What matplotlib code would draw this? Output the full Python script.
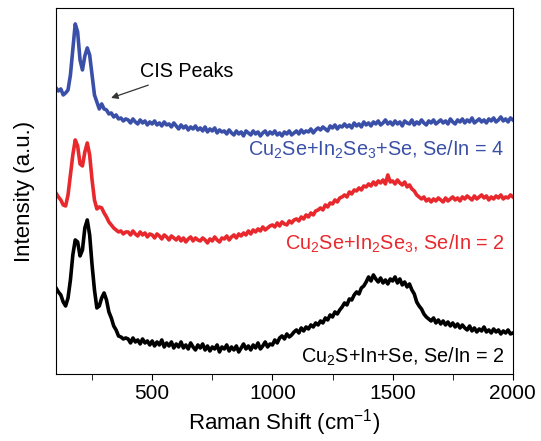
import numpy as np
import matplotlib.pyplot as plt

plt.rcParams['font.family'] = ['Liberation Sans', 'DejaVu Sans']
plt.rcParams['mathtext.fontset'] = 'custom'
plt.rcParams['mathtext.rm'] = 'Liberation Sans'
plt.rcParams['mathtext.it'] = 'Liberation Sans'

# Raman shift grid (cm-1)
shift = np.arange(100, 2001, 10)

# intensities (a.u., vertical offsets included)
blue = [286, 283, 285, 279, 281, 284, 299, 324, 350, 342,
        314, 304, 318, 326, 319, 299, 279, 272, 265, 270,
        265, 264, 260, 261, 257, 259, 255, 256, 253, 255,
        254, 251, 255, 252, 250, 254, 251, 253, 249, 252,
        250, 253, 249, 251, 248, 252, 249, 250, 247, 251,
        248, 245, 249, 246, 248, 244, 247, 245, 248, 244,
        246, 243, 247, 242, 245, 243, 246, 241, 244, 242,
        243, 240, 244, 241, 239, 243, 240, 242, 238, 243,
        241, 239, 243, 240, 242, 238, 241, 243, 239, 242,
        240, 243, 239, 241, 238, 242, 240, 243, 239, 241,
        243, 240, 244, 241, 243, 242, 245, 241, 244, 246,
        244, 247, 245, 243, 248, 246, 249, 245, 248, 247,
        250, 247, 249, 246, 251, 248, 250, 247, 252, 249,
        251, 248, 252, 250, 253, 249, 251, 254, 250, 252,
        249, 253, 250, 252, 248, 253, 251, 250, 254, 249,
        252, 250, 254, 251, 249, 253, 251, 254, 250, 252,
        254, 251, 253, 250, 255, 252, 250, 254, 252, 255,
        251, 254, 252, 256, 251, 253, 255, 252, 254, 251,
        255, 253, 256, 252, 254, 257, 253, 255, 252, 256,
        254]
red = [181, 177, 174, 169, 168, 179, 199, 219, 234, 228,
       210, 208, 222, 231, 219, 194, 174, 165, 167, 166,
       161, 157, 152, 149, 146, 144, 142, 143, 140, 142,
       142, 139, 143, 140, 138, 142, 139, 141, 137, 140,
       139, 136, 140, 138, 135, 139, 137, 134, 138, 136,
       134, 137, 133, 136, 132, 135, 137, 133, 136, 134,
       133, 136, 134, 131, 135, 133, 137, 134, 132, 136,
       135, 138, 134, 137, 139, 136, 140, 138, 141, 139,
       143, 140, 144, 142, 145, 143, 147, 144, 146, 148,
       149, 147, 151, 148, 152, 150, 149, 153, 151, 154,
       155, 153, 157, 155, 159, 157, 161, 159, 163, 164,
       166, 164, 169, 167, 171, 170, 174, 172, 176, 177,
       179, 177, 182, 180, 184, 183, 186, 184, 188, 187,
       190, 188, 192, 189, 193, 191, 194, 190, 199, 192,
       193, 190, 194, 191, 189, 192, 187, 189, 185, 183,
       179, 177, 175, 177, 173, 175, 172, 175, 173, 176,
       174, 172, 176, 173, 175, 177, 174, 176, 173, 177,
       175, 178, 176, 174, 178, 175, 177, 179, 176, 178,
       174, 177, 175, 178, 176, 179, 175, 177, 176, 179,
       177]
black = [86, 82, 79, 72, 68, 76, 94, 119, 134, 132,
         118, 124, 146, 154, 139, 109, 84, 66, 68, 76,
         81, 74, 62, 56, 48, 44, 38, 37, 35, 36,
         35, 31, 36, 32, 34, 30, 35, 31, 33, 29,
         33, 28, 32, 29, 34, 27, 31, 28, 32, 26,
         30, 27, 32, 26, 29, 25, 31, 27, 24, 29,
         26, 30, 24, 28, 23, 27, 25, 29, 22, 27,
         25, 29, 23, 27, 24, 28, 22, 26, 30, 25,
         28, 24, 29, 26, 31, 25, 28, 32, 27, 30,
         29, 34, 31, 36, 38, 35, 40, 37, 39, 42,
         44, 41, 46, 43, 47, 45, 49, 47, 51, 49,
         53, 51, 56, 54, 59, 57, 62, 60, 64, 67,
         71, 69, 75, 74, 79, 82, 80, 86, 88, 92,
         97, 93, 99, 95, 92, 96, 91, 94, 90, 95,
         93, 97, 91, 95, 89, 92, 87, 90, 84, 80,
         72, 68, 65, 60, 57, 55, 53, 56, 51, 54,
         50, 53, 49, 52, 48, 51, 47, 50, 46, 49,
         46, 44, 48, 43, 46, 42, 45, 43, 47, 42,
         44, 41, 45, 42, 44, 40, 43, 41, 44, 40,
         41]

labels = [r'Cu$_2$Se+In$_2$Se$_3$+Se, Se/In = 4',
          r'Cu$_2$Se+In$_2$Se$_3$, Se/In = 2',
          r'Cu$_2$S+In+Se, Se/In = 2']
colors = ['#3a50a8', '#e8282c', 'black']

fig = plt.figure(figsize=(5.41, 4.41), dpi=100)
ax = fig.add_axes([0.1035, 0.152, 0.8445, 0.830])

for y, c in zip([blue, red, black], colors):
    ax.plot(shift, y, color=c, lw=2.6)

ax.set_xlim(100, 2000)
ax.set_ylim(0, 366)
ax.set_xticks([500, 1000, 1500, 2000])
ax.set_xticks([250, 750, 1250, 1750], minor=True)
ax.tick_params(axis='x', which='both', direction='out', length=4, labelsize=15)
ax.set_yticks([])

label_y = [0.612, 0.355, 0.046]
for txt, c, yy in zip(labels, colors, label_y):
    ax.text(0.982, yy, txt, color=c, fontsize=14.3, ha='right', va='center',
            transform=ax.transAxes)

ax.annotate('CIS Peaks', xy=(329, 276), xytext=(449, 302), fontsize=14.2,
            va='center', ha='left',
            arrowprops=dict(arrowstyle='-|>', color='#333333', lw=0.9,
                            shrinkA=2, shrinkB=0, mutation_scale=10))

ax.set_xlabel(r'Raman Shift (cm$^{-1}$)', fontsize=16, labelpad=3)
ax.set_ylabel('Intensity (a.u.)', fontsize=16, labelpad=15)

fig.savefig('out.png', dpi=100)
